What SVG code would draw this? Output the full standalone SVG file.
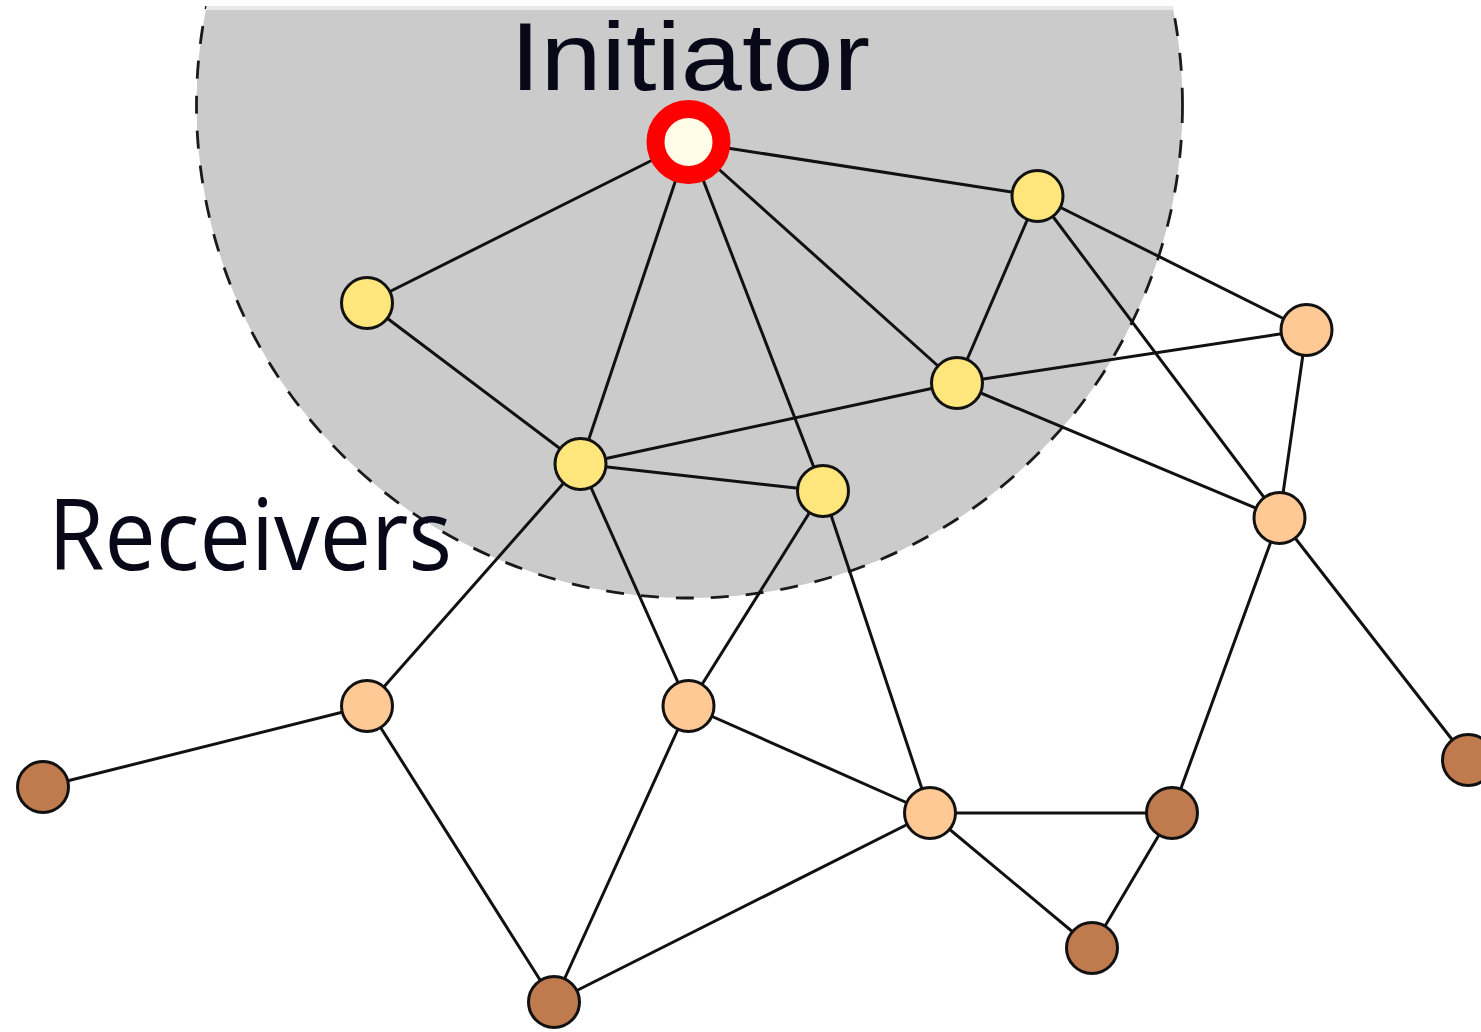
<svg xmlns="http://www.w3.org/2000/svg" width="1481" height="1032" viewBox="0 0 1481 1032">
<style>
.edge{stroke:#111;stroke-width:3;fill:none;stroke-linecap:round}
.n{stroke:#111;stroke-width:3}
.y{fill:#fee67c}
.o{fill:#fec995}
.b{fill:#bf7a4e}
.lbl{font-family:"Open Sans","Noto Sans","Liberation Sans",sans-serif;font-size:98px;fill:#080818}
.top{font-family:"Liberation Sans","Arial",sans-serif;font-size:97px}
</style>
<defs>
<clipPath id="top"><rect x="0" y="6" width="1481" height="1026"/></clipPath>
<clipPath id="disk"><circle cx="689.5" cy="105" r="493"/></clipPath>
</defs>
<rect width="1481" height="1032" fill="#ffffff"/>
<g id="region">
<g clip-path="url(#top)">
<circle cx="689.5" cy="105" r="493" fill="#cbcbcb"/>
<circle cx="689.5" cy="105" r="493" fill="none" stroke="#1a1a1a" stroke-width="2.8" stroke-dasharray="18 17"/>
</g>
<rect x="0" y="6" width="1481" height="4" fill="#e8e8e8" clip-path="url(#disk)"/>
</g>
<g id="connectors">
<line class="edge" x1="688.5" y1="142" x2="367" y2="303"/>
<line class="edge" x1="688.5" y1="142" x2="580.5" y2="464"/>
<line class="edge" x1="688.5" y1="142" x2="823" y2="491"/>
<line class="edge" x1="688.5" y1="142" x2="957" y2="383"/>
<line class="edge" x1="688.5" y1="142" x2="1037.5" y2="196"/>
<line class="edge" x1="1037.5" y1="196" x2="957" y2="383"/>
<line class="edge" x1="1037.5" y1="196" x2="1306.5" y2="330"/>
<line class="edge" x1="1037.5" y1="196" x2="1279.5" y2="518"/>
<line class="edge" x1="367" y1="303" x2="580.5" y2="464"/>
<line class="edge" x1="957" y1="383" x2="1306.5" y2="330"/>
<line class="edge" x1="957" y1="383" x2="580.5" y2="464"/>
<line class="edge" x1="957" y1="383" x2="1279.5" y2="518"/>
<line class="edge" x1="580.5" y1="464" x2="823" y2="491"/>
<line class="edge" x1="580.5" y1="464" x2="367" y2="706"/>
<line class="edge" x1="580.5" y1="464" x2="688.5" y2="706"/>
<line class="edge" x1="823" y1="491" x2="688.5" y2="706"/>
<line class="edge" x1="823" y1="491" x2="930" y2="813"/>
<line class="edge" x1="1306.5" y1="330" x2="1279.5" y2="518"/>
<line class="edge" x1="1279.5" y1="518" x2="1172" y2="813"/>
<line class="edge" x1="1279.5" y1="518" x2="1468" y2="760"/>
<line class="edge" x1="367" y1="706" x2="43" y2="787"/>
<line class="edge" x1="367" y1="706" x2="554" y2="1002"/>
<line class="edge" x1="688.5" y1="706" x2="554" y2="1002"/>
<line class="edge" x1="688.5" y1="706" x2="930" y2="813"/>
<line class="edge" x1="930" y1="813" x2="554" y2="1002"/>
<line class="edge" x1="930" y1="813" x2="1172" y2="813"/>
<line class="edge" x1="930" y1="813" x2="1092" y2="948"/>
<line class="edge" x1="1172" y1="813" x2="1092" y2="948"/>
</g>
<g id="initiator"><circle cx="688.5" cy="142" r="33" fill="#fffde8" stroke="#ff0000" stroke-width="18"/></g>
<g id="y1"><circle class="n y" cx="1037.5" cy="196" r="25.5"/></g>
<g id="y2"><circle class="n y" cx="367" cy="303" r="25.5"/></g>
<g id="y3"><circle class="n y" cx="957" cy="383" r="25.5"/></g>
<g id="y4"><circle class="n y" cx="580.5" cy="464" r="25.5"/></g>
<g id="y5"><circle class="n y" cx="823" cy="491" r="25.5"/></g>
<g id="o1"><circle class="n o" cx="1306.5" cy="330" r="25.5"/></g>
<g id="o2"><circle class="n o" cx="1279.5" cy="518" r="25.5"/></g>
<g id="o3"><circle class="n o" cx="367" cy="706" r="25.5"/></g>
<g id="o4"><circle class="n o" cx="688.5" cy="706" r="25.5"/></g>
<g id="o5"><circle class="n o" cx="930" cy="813" r="25.5"/></g>
<g id="b1"><circle class="n b" cx="43" cy="787" r="25.5"/></g>
<g id="b2"><circle class="n b" cx="1172" cy="813" r="25.5"/></g>
<g id="b3"><circle class="n b" cx="1468" cy="760" r="25.5"/></g>
<g id="b4"><circle class="n b" cx="1092" cy="948" r="25.5"/></g>
<g id="b5"><circle class="n b" cx="554" cy="1002" r="25.5"/></g>
<g id="labels">
<text class="lbl top" x="510" y="90" textLength="360" lengthAdjust="spacingAndGlyphs">Initiator</text>
<text class="lbl" x="48" y="570" textLength="404" lengthAdjust="spacingAndGlyphs">Receivers</text>
</g>
</svg>
